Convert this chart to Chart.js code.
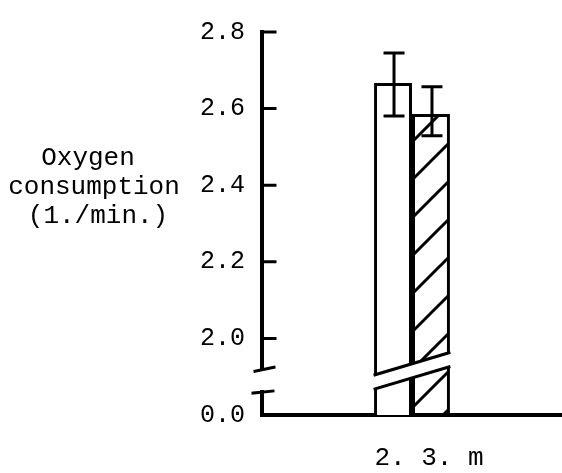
<!DOCTYPE html>
<html><head><meta charset="utf-8">
<title>Oxygen consumption</title>
<script src="https://cdn.jsdelivr.net/npm/chart.js@4.4.0/dist/chart.umd.min.js"></script>
<style>
  body { margin: 0; background: #fff; }
</style>
</head>
<body>
<canvas id="barChart" width="562" height="473"></canvas>
<script>
// values (axis is broken between 0.0 and 2.0)
var categories = ['2. 3. m'];
var openValues = [2.667];
var hatchValues = [2.586];
var openErr = [[2.581, 2.745]];
var hatchErr = [[2.529, 2.657]];
var tickValues = [1.8, 2.0, 2.2, 2.4, 2.6, 2.8];
var tickLabels = ['0.0', '2.0', '2.2', '2.4', '2.6', '2.8'];
var yTitle = ['Oxygen', 'consumption', '(1./min.)'];

var FONT = '"Liberation Mono", "Courier New", monospace';

// diagonal hatching for the second bar
var tile = document.createElement('canvas');
tile.width = tile.height = 38;
var t = tile.getContext('2d');
t.strokeStyle = '#000';
t.lineWidth = 3;
t.beginPath();
t.moveTo(-3, 41); t.lineTo(41, -3);
t.moveTo(-3, 3); t.lineTo(3, -3);
t.moveTo(35, 41); t.lineTo(41, 35);
t.stroke();
var hatch = t.createPattern(tile, 'repeat');
hatch.setTransform(new DOMMatrix([1, 0, 0, 1, 22, 0]));

var extras = {
  id: 'extras',
  afterDraw: function(chart) {
    var ctx = chart.ctx, y = chart.scales.y, area = chart.chartArea;
    var ax = area.left;
    ctx.save();
    ctx.strokeStyle = '#000';
    ctx.lineCap = 'square';

    // tick marks point into the plot
    ctx.lineWidth = 3;
    ctx.beginPath();
    y.ticks.forEach(function(tk, i) {
      if (i === 0) return;
      var py = y.getPixelForValue(tk.value);
      ctx.moveTo(ax, py);
      ctx.lineTo(ax + 13, py);
    });
    ctx.stroke();

    // axis break
    var upEnd = y.getPixelForValue(1.922), lowTop = y.getPixelForValue(1.86);
    ctx.fillStyle = '#fff';
    ctx.fillRect(ax - 6, upEnd + 2, 12, lowTop - upEnd - 4);
    ctx.beginPath();
    ctx.moveTo(ax - 7, upEnd + 3); ctx.lineTo(ax + 12, upEnd - 1);
    ctx.moveTo(ax - 9, lowTop + 1); ctx.lineTo(ax + 11, lowTop - 1);
    ctx.stroke();

    // break through the bars
    var b0 = chart.getDatasetMeta(0).data[0], b1 = chart.getDatasetMeta(1).data[0];
    var xL = b0.x - b0.width / 2, xR = b1.x + b1.width / 2;
    var yTop = y.getPixelForValue(1.905), yBot = y.getPixelForValue(1.868);
    var rise = 22;
    ctx.beginPath();
    ctx.moveTo(xL - 2, yTop); ctx.lineTo(xR + 2, yTop - rise);
    ctx.lineTo(xR + 2, yBot - rise); ctx.lineTo(xL - 2, yBot);
    ctx.closePath();
    ctx.fill();
    ctx.lineWidth = 3;
    ctx.beginPath();
    ctx.moveTo(xL + 1, yTop); ctx.lineTo(xR - 1, yTop - rise);
    ctx.moveTo(xL + 1, yBot); ctx.lineTo(xR - 1, yBot - rise);
    ctx.stroke();

    // error bars
    [[0, openErr], [1, hatchErr]].forEach(function(p) {
      chart.getDatasetMeta(p[0]).data.forEach(function(bar, i) {
        var lo = y.getPixelForValue(p[1][i][0]), hi = y.getPixelForValue(p[1][i][1]);
        var x = bar.x + 1;
        ctx.beginPath();
        ctx.moveTo(x, hi); ctx.lineTo(x, lo);
        ctx.moveTo(x - 9, hi); ctx.lineTo(x + 9, hi);
        ctx.moveTo(x - 9, lo); ctx.lineTo(x + 9, lo);
        ctx.stroke();
      });
    });

    // y title, horizontal, three lines
    ctx.fillStyle = '#000';
    ctx.font = '26px ' + FONT;
    ctx.textAlign = 'center';
    ctx.textBaseline = 'alphabetic';
    var cx = [88, 94, 98], by = [165, 194, 223];
    yTitle.forEach(function(s, i) { ctx.fillText(s, cx[i], by[i]); });
    ctx.restore();
  }
};

var ctx = document.getElementById('barChart');
var chart = new Chart(ctx, {
  type: 'bar',
  data: {
    labels: categories,
    datasets: [
      { label: 'open', data: openValues, backgroundColor: '#fff', borderColor: '#000', borderWidth: 3 },
      { label: 'hatched', data: hatchValues, backgroundColor: hatch, borderColor: '#000', borderWidth: 3 }
    ]
  },
  options: {
    responsive: false,
    animation: false,
    events: [],
    layout: { padding: { top: 31, right: 0, bottom: 0, left: 0 } },
    plugins: { legend: { display: false }, tooltip: { enabled: false } },
    datasets: { bar: { categoryPercentage: 0.253, barPercentage: 1 } },
    scales: {
      x: {
        grid: { display: false, drawTicks: false },
        border: { display: true, width: 4, color: '#000' },
        ticks: { color: '#000', font: { family: FONT, size: 26 }, padding: 28, labelOffset: 17 },
        afterFit: function(s) { s.height = 58; }
      },
      y: {
        min: 1.8,
        max: 2.8,
        grid: { display: false, drawTicks: false },
        border: { display: true, width: 4, color: '#000' },
        afterBuildTicks: function(s) { s.ticks = tickValues.map(function(v) { return { value: v }; }); },
        ticks: {
          color: '#000',
          font: { family: FONT, size: 25 },
          padding: 17,
          callback: function(v, i) { return tickLabels[i]; }
        },
        afterFit: function(s) { s.width = 262; }
      }
    }
  },
  plugins: [extras]
});
</script>
</body>
</html>
